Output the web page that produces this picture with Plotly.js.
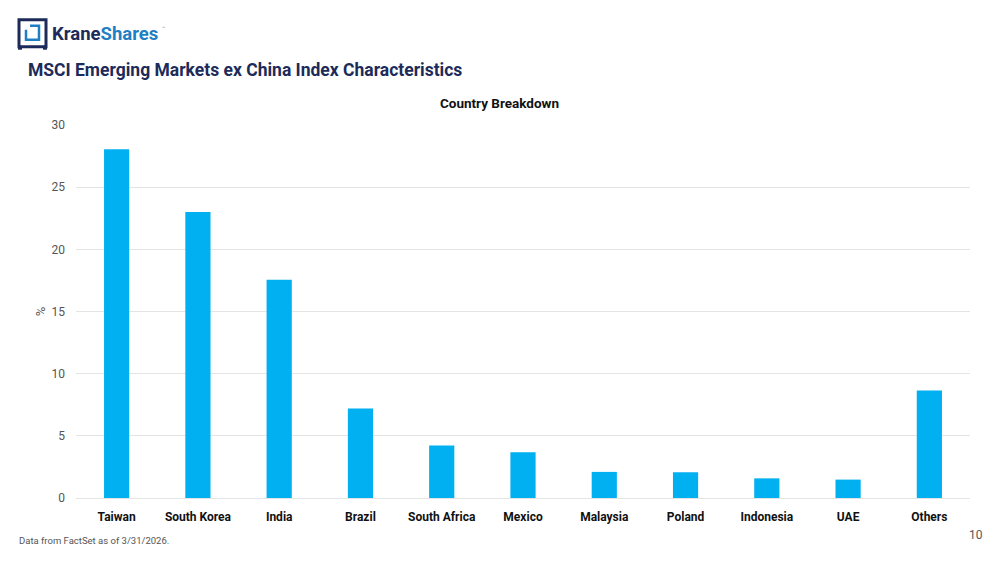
<!DOCTYPE html>
<html>
<head>
<meta charset="utf-8">
<script src="https://cdn.plot.ly/plotly-3.0.1.min.js"></script>
<style>
html,body{margin:0;padding:0;background:#fff;}
#chart{width:1000px;height:563px;}
</style>
</head>
<body>
<div id="chart"></div>
<script>
const categories = ["Taiwan","South Korea","India","Brazil","South Africa","Mexico","Malaysia","Poland","Indonesia","UAE","Others"];
const weights = [28.05, 23.0, 17.55, 7.2, 4.23, 3.67, 2.1, 2.07, 1.58, 1.48, 8.64];
const yTicks = [0, 5, 10, 15, 20, 25, 30];

const navy = "#1c2b5a";
const blue = "#00b0f0";
const font = "Roboto, 'DejaVu Sans', sans-serif";

function px(x){ return (x - 76) / 894; }
function py(y){ return (498.5 - y) / 374; }

const trace = {
  type: "bar",
  x: categories,
  y: weights,
  marker: {color: blue},
  hoverinfo: "x+y"
};

const layout = {
  width: 1000, height: 563,
  margin: {l: 76, r: 30, t: 124.5, b: 64.5},
  paper_bgcolor: "#fff", plot_bgcolor: "#fff",
  bargap: 0.69,
  showlegend: false,
  font: {family: font, color: "#333"},
  title: {
    text: "<b>Country Breakdown</b>",
    x: 0.4995, xref: "container", xanchor: "center",
    y: 1 - 103 / 563, yref: "container", yanchor: "middle",
    font: {size: 13.5, color: "#111", family: font}
  },
  xaxis: {
    type: "category",
    tickfont: {size: 12, color: "#111", family: font, weight: "bold"},
    showgrid: false, zeroline: false, showline: false,
    ticks: "", ticklabelstandoff: 10
  },
  yaxis: {
    range: [0, 30],
    tickvals: yTicks,
    tickfont: {size: 12, color: "#555", family: font},
    showgrid: true, gridcolor: "#e4e4e4", gridwidth: 1,
    zeroline: true, zerolinecolor: "#e4e4e4", zerolinewidth: 1,
    showline: false, ticks: "", ticklabelstandoff: 10,
    title: {text: "%", font: {size: 13, color: "#555", family: font}, standoff: 2}
  },
  annotations: [
    {text: "<b>MSCI Emerging Markets ex China Index Characteristics</b>",
     xref: "paper", yref: "paper", x: px(26), y: py(69), xanchor: "left", yanchor: "middle",
     showarrow: false, font: {size: 17.5, color: navy, family: font}},
    {text: "Data from FactSet as of 3/31/2026.",
     xref: "paper", yref: "paper", x: px(17), y: py(541), xanchor: "left", yanchor: "middle",
     showarrow: false, font: {size: 9.5, color: "#555", family: font}},
    {text: "10",
     xref: "paper", yref: "paper", x: px(976), y: py(536), xanchor: "center", yanchor: "middle",
     showarrow: false, font: {size: 12, color: "#555", family: font}},
    {text: "<b><span style='color:" + navy + "'>Krane</span><span style='color:#1f7fc4'>Shares</span></b>",
     xref: "paper", yref: "paper", x: px(50), y: py(33), xanchor: "left", yanchor: "middle",
     showarrow: false, font: {size: 18.5, family: font}},
    {text: "™",
     xref: "paper", yref: "paper", x: px(160), y: py(27), xanchor: "left", yanchor: "middle",
     showarrow: false, font: {size: 5, color: "#888", family: font}}
  ],
  shapes: [
    {type: "rect", xref: "paper", yref: "paper", x0: px(19), x1: px(46), y0: py(46), y1: py(19),
     line: {color: navy, width: 3}, fillcolor: "rgba(0,0,0,0)"},
    {type: "rect", xref: "paper", yref: "paper", x0: px(18), x1: px(22), y0: py(49), y1: py(45),
     line: {width: 0}, fillcolor: navy},
    {type: "rect", xref: "paper", yref: "paper", x0: px(43), x1: px(47), y0: py(49), y1: py(45),
     line: {width: 0}, fillcolor: navy},
    {type: "path", xref: "paper", yref: "paper",
     path: "M " + px(26) + "," + py(29) + " L " + px(26) + "," + py(39) + " L " + px(39) + "," + py(39) + " L " + px(39) + "," + py(25) + " L " + px(30) + "," + py(25),
     line: {color: "#1f7fc4", width: 2.5}}
  ]
};

Plotly.newPlot("chart", [trace], layout, {displayModeBar: false, staticPlot: true});
</script>
</body>
</html>
